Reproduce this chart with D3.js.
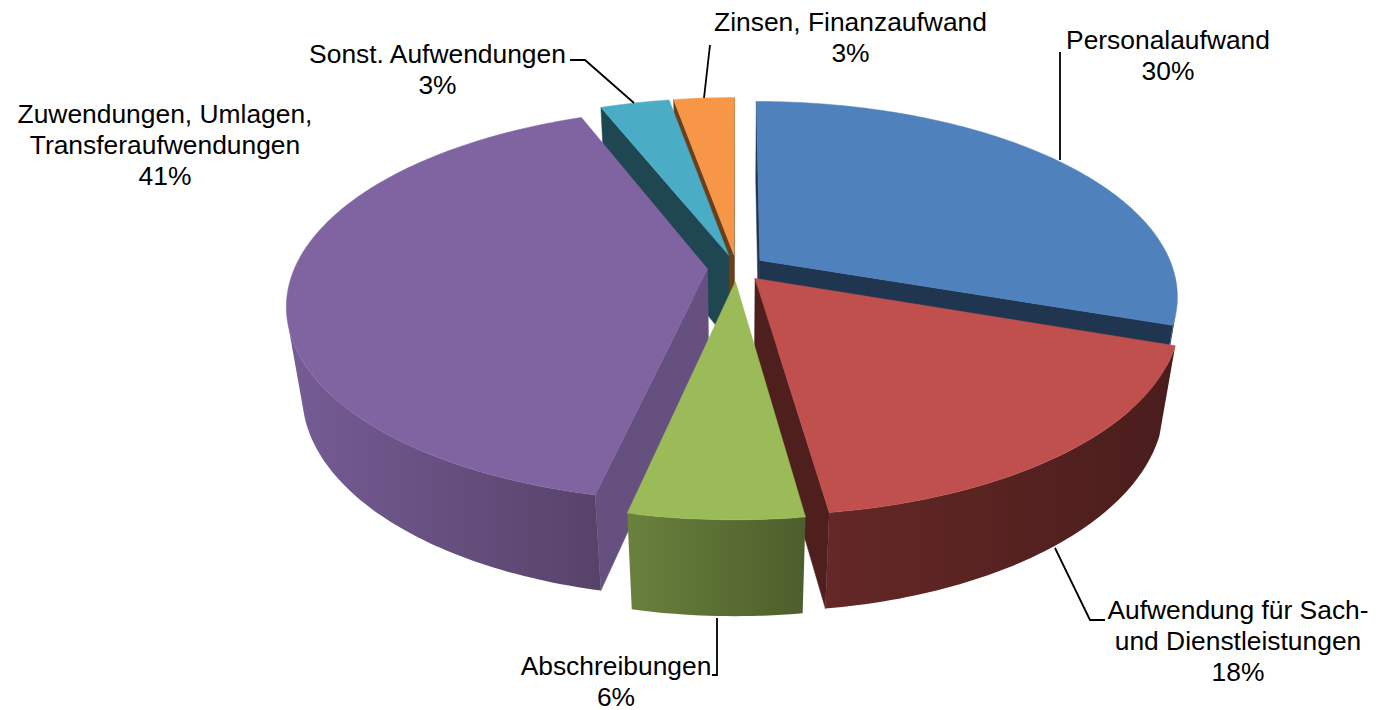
<!DOCTYPE html>
<html><head><meta charset="utf-8">
<script src="https://cdn.jsdelivr.net/npm/d3@7"></script>
<style>html,body{margin:0;padding:0;background:#fff}svg{display:block}text{font-family:"Liberation Sans",Arial,sans-serif;font-size:26.4px;fill:#000}</style>
</head><body><svg id="c" width="1377" height="710"></svg>
<script>
const names = ["Personalaufwand","Aufwendung für Sach- und Dienstleistungen","Abschreibungen","Zuwendungen, Umlagen, Transferaufwendungen","Sonst. Aufwendungen","Zinsen, Finanzaufwand"];
const values = [30.3,17.5,5.6,40.6,3.2,2.8];
const percentLabels = ["30%","18%","6%","41%","3%","3%"];
const labelLines = [["Personalaufwand"],["Aufwendung für Sach-","und Dienstleistungen"],["Abschreibungen"],["Zuwendungen, Umlagen,","Transferaufwendungen"],["Sonst. Aufwendungen"],["Zinsen, Finanzaufwand"]];
const topColors = ["#4f81bd","#c0504d","#9bbb59","#8064a2","#4bacc6","#f79646"];
const cutColors = ["#1f3550","#4f1f1e","#4e602c","#65507f","#1f4751","#693f1c"];
const wallLight = ["#3a5f8c","#642826","#6a813d","#755c95","#2f6b7c","#a5652f"];
const wallDark  = ["#2a4567","#4a1d1c","#4c5e2b","#574369","#2f6b7c","#a5652f"];
// layout
const labelAnchors = [[1168,48.5],[1238,619],[616,674.5],[165,123],[437.5,62.5],[850.5,30.5]];
const leaders = [[[1060,160],[1060,52]],[[1055,548],[1090,620],[1105,620]],[[717,618],[717,675],[712,675]],null,[[634,103],[585,60],[570,60]],[[704,98],[710,45]]];
const cx=736.5, cy=268, R=413, KY=190, K=0.18, M=0.035, H=90, EXPLODE=0.07, STEP=Math.PI/180;

const svg=d3.select("#c");
const defs=svg.append("defs");
const arcs=d3.pie().sort(null).value(d=>d)(values);
function project(X,Y,z){const dp=1+K*Y+M*z;return [cx+R*X/dp, cy+(-KY*Y+H*z)/dp];}
const line=d3.line();
function poly(g,pts,fill){g.append("path").attr("d",line(pts)+"Z").attr("fill",fill).attr("stroke",fill).attr("stroke-width",0.5);}
const order=[0,5,4,3,1,2];
order.forEach(i=>{
  const a=arcs[i], mid=(a.startAngle+a.endAngle)/2;
  const ox=EXPLODE*Math.sin(mid), oy=EXPLODE*Math.cos(mid);
  const rim=(t,z)=>project(ox+Math.sin(t),oy+Math.cos(t),z);
  const apex=z=>project(ox,oy,z);
  const g=svg.append("g");
  const ts=d3.range(a.startAngle,a.endAngle,STEP).concat([a.endAngle]);
  // cut faces
  const f0=[apex(0),rim(a.startAngle,0),rim(a.startAngle,1),apex(1)];
  const f1=[apex(0),apex(1),rim(a.endAngle,1),rim(a.endAngle,0)];
  [f0,f1].forEach(f=>{ if(d3.polygonArea(f)>0) poly(g,f,cutColors[i]); });
  // outer wall: the arc range that faces the viewer
  const seen=ts.filter((t,j)=>{
    const n=j<ts.length-1?j:j-1;
    return d3.polygonArea([rim(ts[n],0),rim(ts[n+1],0),rim(ts[n+1],1),rim(ts[n],1)])>0;
  });
  if(seen.length>1){
    const outline=[...seen.map(t=>rim(t,0)),...seen.slice().reverse().map(t=>rim(t,1))];
    const [x0,x1]=d3.extent(outline,p=>p[0]);
    const id="wall"+i;
    const gr=defs.append("linearGradient").attr("id",id).attr("gradientUnits","userSpaceOnUse")
      .attr("x1",x0).attr("x2",x1).attr("y1",0).attr("y2",0);
    gr.append("stop").attr("offset",0).attr("stop-color",wallLight[i]);
    gr.append("stop").attr("offset",1).attr("stop-color",wallDark[i]);
    g.append("path").attr("d",line(outline)+"Z").attr("fill",`url(#${id})`);
  }
  // top
  poly(g,[apex(0),...ts.map(t=>rim(t,0))],topColors[i]);
});
// leaders
leaders.forEach(l=>{ if(l) svg.append("path").attr("d",line(l)).attr("fill","none").attr("stroke","#000").attr("stroke-width",1.8); });
// labels
arcs.forEach((a,i)=>{
  const [x,y]=labelAnchors[i];
  const t=svg.append("text").attr("text-anchor","middle");
  labelLines[i].concat([percentLabels[i]]).forEach((s,j)=>t.append("tspan").attr("x",x).attr("y",y+j*31).text(s));
});
</script></body></html>
